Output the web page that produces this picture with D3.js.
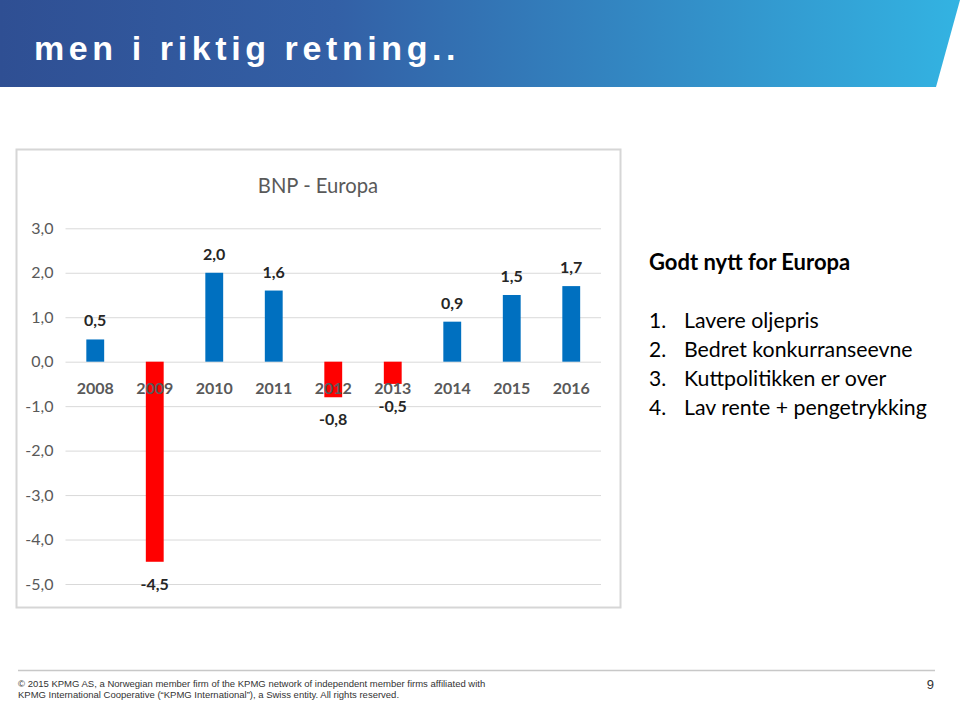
<!DOCTYPE html>
<html><head><meta charset="utf-8">
<script src="https://cdn.jsdelivr.net/npm/d3@7"></script>
<style>html,body{margin:0;padding:0;background:#fff;}svg{display:block;}</style>
</head><body>
<script>
const years = ["2008","2009","2010","2011","2012","2013","2014","2015","2016"];
const values = [0.5, -4.5, 2.0, 1.6, -0.8, -0.5, 0.9, 1.5, 1.7];
const yTicks = [3, 2, 1, 0, -1, -2, -3, -4, -5];
const bullets = ["Lavere oljepris", "Bedret konkurranseevne", "Kuttpolitikken er over", "Lav rente + pengetrykking"];

const W = 960, H = 702;
const svg = d3.select("body").append("svg").attr("width", W).attr("height", H);

// header
const defs = svg.append("defs");
const g = defs.append("linearGradient").attr("id","hg").attr("x1","0").attr("x2","1").attr("y1","0").attr("y2","0");
g.append("stop").attr("offset","0").attr("stop-color","#2f4f93");
g.append("stop").attr("offset","0.35").attr("stop-color","#3360a6");
g.append("stop").attr("offset","1").attr("stop-color","#33b3e2");
svg.append("path").attr("d","M0,0 L960,0 L936,87 L0,87 Z").attr("fill","url(#hg)");
svg.append("text").attr("x",34).attr("y",60).attr("fill","#fff")
  .attr("font-family","Liberation Sans, Arial, sans-serif").attr("font-weight","bold")
  .attr("font-size",34).attr("letter-spacing",4.6).text("men i riktig retning..");

// chart frame
svg.append("rect").attr("x",16.5).attr("y",149.5).attr("width",604).attr("height",458)
  .attr("fill","#fff").attr("stroke","#d6d6d6").attr("stroke-width",2);

const x = d3.scaleBand().domain(years).range([65.5, 601]).paddingInner(0.7).paddingOuter(0.35);
const y = d3.scaleLinear().domain([-5, 3]).range([584, 228.3]);

svg.append("text").attr("transform","translate(318,193) scale(0.92,1)").attr("text-anchor","middle")
  .attr("font-family","Lato, Open Sans, sans-serif").attr("font-size",22).attr("fill","#595959")
  .text("BNP - Europa");

// gridlines via axis
const yAxis = d3.axisLeft(y).tickValues(yTicks).tickSize(-(601-65.5)).tickPadding(12)
  .tickFormat(d => d3.format(".1f")(d).replace(".", ",").replace("−","-"));
const ya = svg.append("g").attr("transform","translate(65.5,0)").call(yAxis);
ya.select(".domain").remove();
ya.selectAll(".tick line").attr("stroke","#d9d9d9").attr("stroke-width",1);
ya.selectAll(".tick text").attr("fill","#595959").attr("font-size",16)
  .attr("font-family","Lato, Open Sans, sans-serif");

// bars
svg.append("g").selectAll("rect").data(years).join("rect")
  .attr("x", d => x(d))
  .attr("width", x.bandwidth())
  .attr("y", (d,i) => y(Math.max(0, values[i])))
  .attr("height", (d,i) => Math.abs(y(values[i]) - y(0)))
  .attr("fill", (d,i) => values[i] < 0 ? "#ff0000" : "#0070c0");

// x labels (at zero line, below)
const xa = svg.append("g").attr("transform",`translate(0,${y(0)})`)
  .call(d3.axisBottom(x).tickSize(0).tickPadding(21));
xa.select(".domain").remove();
xa.selectAll(".tick text").attr("fill","#595959").attr("font-size",16).attr("font-weight","bold")
  .attr("font-family","Lato, Open Sans, sans-serif");

// value labels
svg.append("g").selectAll("text").data(years).join("text")
  .attr("x", d => x(d) + x.bandwidth()/2)
  .attr("y", (d,i) => values[i] >= 0 ? y(values[i]) - 13 : y(values[i]) + 28)
  .attr("text-anchor","middle")
  .attr("font-family","Lato, Open Sans, sans-serif").attr("font-weight","bold").attr("font-size",16)
  .attr("fill","#262626")
  .text((d,i) => d3.format(".1f")(values[i]).replace(".", ",").replace("−","-"));

// right text
svg.append("text").attr("x",649).attr("y",270).attr("font-family","Lato, Open Sans, sans-serif")
  .attr("font-weight","bold").attr("font-size",22).attr("fill","#000").text("Godt nytt for Europa");
const bl = svg.append("g").selectAll("g").data(bullets).join("g")
  .attr("transform",(d,i)=>`translate(0,${328 + i*29})`);
bl.append("text").attr("x",649).attr("font-family","Lato, Open Sans, sans-serif").attr("font-size",21)
  .attr("fill","#000").text((d,i)=>(i+1)+".");
bl.append("text").attr("x",684).attr("font-family","Lato, Open Sans, sans-serif").attr("font-size",21.3)
  .attr("fill","#000").text(d=>d);

// footer
svg.append("line").attr("x1",18).attr("x2",935).attr("y1",670.5).attr("y2",670.5)
  .attr("stroke","#c8c8c8").attr("stroke-width",1.5);
const ft = svg.append("g").attr("font-family","Liberation Sans, Arial, sans-serif").attr("fill","#333");
ft.append("text").attr("x",18).attr("y",687).attr("font-size",9.5)
  .text("© 2015 KPMG AS, a Norwegian member firm of the KPMG network of independent member firms affiliated with");
ft.append("text").attr("x",18).attr("y",698).attr("font-size",9.5)
  .text("KPMG International Cooperative (“KPMG International”), a Swiss entity. All rights reserved.");
ft.append("text").attr("x",934).attr("y",689).attr("font-size",13).attr("text-anchor","end").text("9");
</script>
</body></html>
